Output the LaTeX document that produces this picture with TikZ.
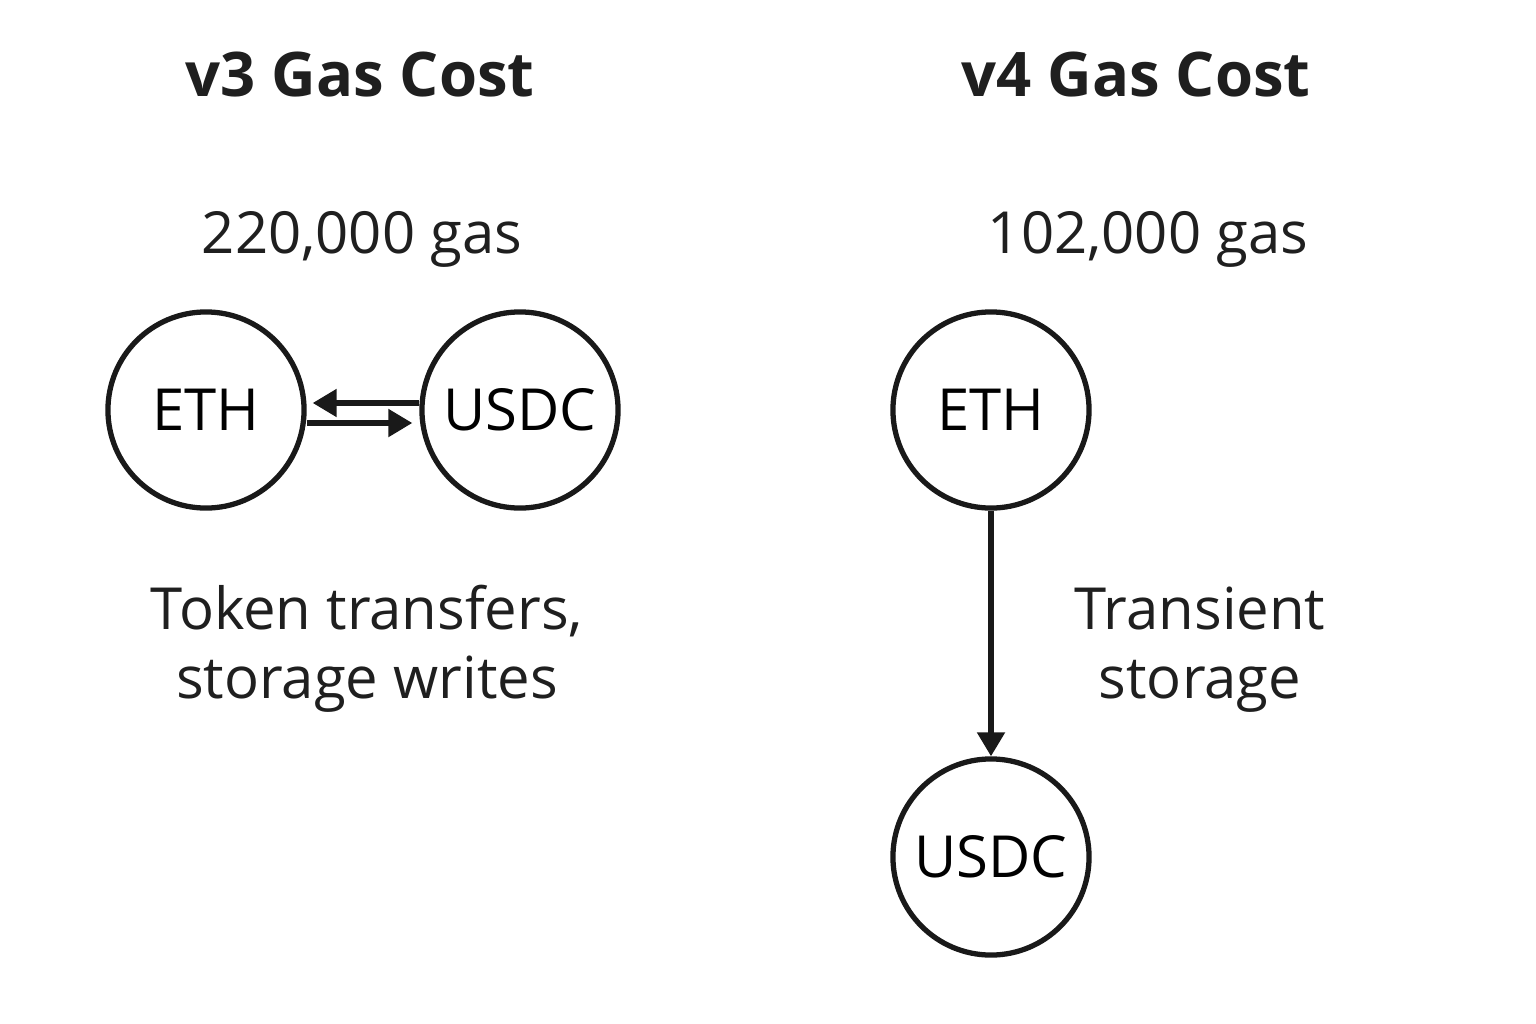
\documentclass[tikz,border=0pt]{standalone}
\usepackage{fontspec}
\setmainfont{Open Sans}
\usetikzlibrary{arrows.meta}

\begin{document}
\begin{tikzpicture}[x=0.01cm,y=-0.01cm]
              \tikzstyle{every node}+=[inner sep=0pt]
              \tikzstyle{coin}=[draw=black!90,line width=1.5pt,circle,minimum size=1.96cm,font=\fontsize{16.5}{20}\selectfont]
              \tikzstyle{flow}=[draw=black!90,line width=1.5pt,-{Triangle[length=0.24cm,width=0.27cm]}]
              \tikzstyle{title}=[anchor=base,font=\fontsize{17.5}{21}\selectfont\bfseries,text=black!88]
              \tikzstyle{label}=[anchor=base,align=center,font=\fontsize{16.5}{19.5}\selectfont,text=black!88]
              \useasboundingbox [fill=white] (0,0) rectangle (1536,1024);
              % v3 side
              \node [title] (titleA) at (360,97) {v3 Gas Cost};
              \node [label] (gasA) at (362,253) {220,000 gas};
              \node [coin] (ethA) at (206,410) {ETH};
              \node [coin] (usdcA) at (520,410) {USDC};
              \draw [flow] ([yshift=0.07cm]usdcA.west) -- ([yshift=0.07cm,xshift=0.06cm]ethA.east);
              \draw [flow] ([yshift=-0.13cm]ethA.east) -- ([yshift=-0.13cm,xshift=-0.07cm]usdcA.west);
              \node [label] (noteA) at (367,698) {Token transfers,\\storage writes};
              % v4 side
              \node [title] (titleB) at (1136,97) {v4 Gas Cost};
              \node [label] (gasB) at (1148,253) {102,000 gas};
              \node [coin] (ethB) at (991,410) {ETH};
              \node [coin] (usdcB) at (991,857) {USDC};
              \draw [flow] (ethB) -- (usdcB);
              \node [label] (noteB) at (1200,698) {Transient\\storage};
            \end{tikzpicture}
\end{document}
